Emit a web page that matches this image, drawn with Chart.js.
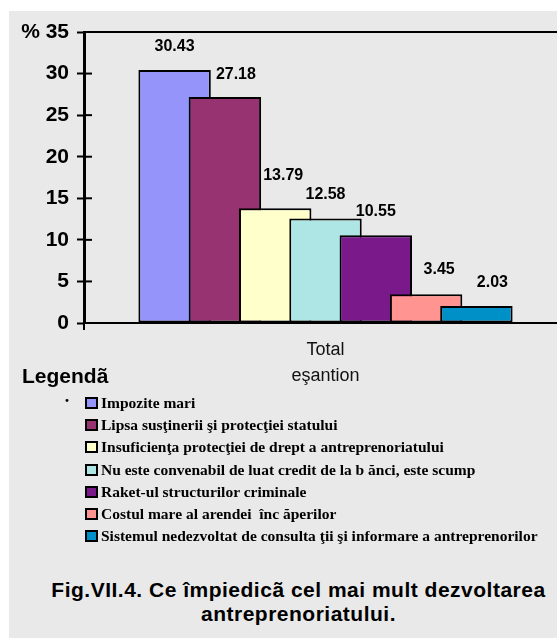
<!DOCTYPE html>
<html>
<head>
<meta charset="utf-8">
<script src="https://cdn.jsdelivr.net/npm/chart.js@4"></script>
<style>
  html, body { margin: 0; padding: 0; background: #fff; overflow: hidden; width: 557px; height: 638px; }
  #panel { position: absolute; left: 9px; top: 11px; right: 0; bottom: 0; background: #e9e9e9; }
  #chart { position: absolute; left: 0; top: 0; }
  #legendTitle { position: absolute; left: 22px; top: 364px; font: bold 21px "Liberation Sans", Arial, sans-serif; }
  #legendDot { position: absolute; left: 64px; top: 391px; font: bold 18px "Liberation Serif", serif; }
  #legend { position: absolute; left: 85px; top: 392px; margin: 0; padding: 0; list-style: none;
            font: bold 15.5px "Liberation Serif", "Times New Roman", serif; }
  #legend li { display: flex; align-items: center; height: 22.2px; white-space: pre; }
  #legend .box { width: 9px; height: 8px; border: 2px solid #000; margin-right: 3px; flex: none; }
  #caption { position: absolute; left: 40px; right: 0; top: 578px; text-align: center;
             font: bold 21px "Liberation Sans", Arial, sans-serif; letter-spacing: 0.5px; line-height: 24px; }
</style>
</head>
<body>
<div id="panel"></div>
<canvas id="chart" width="567" height="400"></canvas>
<div id="legendTitle">Legendã</div>
<div id="legendDot">·</div>
<ul id="legend"></ul>
<div id="caption">Fig.VII.4. Ce împiedicã cel mai mult dezvoltarea<br>antreprenoriatului.</div>

<script>
// categoria unica de pe axa X
const categories = [["Total", "eşantion"]];

// cauzele (seriile)
const causes = [
    "Impozite mari",
    "Lipsa susţinerii şi protecţiei statului",
    "Insuficienţa protecţiei de drept a antreprenoriatului",
    "Nu este convenabil de luat credit de la b ănci, este scump",
    "Raket-ul structurilor criminale",
    "Costul mare al arendei  înc ăperilor",
    "Sistemul nedezvoltat de consulta ţii şi informare a antreprenorilor"
];

// procente
const values = [30.43, 27.18, 13.79, 12.58, 10.55, 3.45, 2.03];

const colors = ["#9494fa", "#963370", "#ffffcc", "#aee6e6", "#7a1a8a", "#ff9490", "#0090c8"];

const yTicks = [0, 5, 10, 15, 20, 25, 30, 35];

// mici deplasari ale etichetelor fata de bara (px)
const labelShiftX = [0, 11, 8, 0, 0, 13, 16];
const labelShiftY = [0, 1, -9, 0, 0, -1, 0];

// legenda
const legend = document.getElementById("legend");
causes.forEach((name, i) => {
    const li = document.createElement("li");
    const box = document.createElement("span");
    box.className = "box";
    box.style.background = colors[i];
    li.appendChild(box);
    li.appendChild(document.createTextNode(name));
    legend.appendChild(li);
});

// barele se suprapun: seria urmatoare se deseneaza peste cea precedenta
const overlapBars = {
    id: "overlapBars",
    beforeDatasetsDraw(chart) {
        chart.getSortedVisibleDatasetMetas().forEach(m => m.controller.draw());
        return false;
    },
    afterDraw(chart) {
        const ctx = chart.ctx;
        const area = chart.chartArea;
        const y = chart.scales.y;

        ctx.save();
        ctx.strokeStyle = "#000";
        ctx.lineWidth = 2;

        // linia de sus a zonei graficului
        const top = y.getPixelForValue(y.max);
        ctx.beginPath();
        ctx.moveTo(area.left, top);
        ctx.lineTo(area.right, top);
        ctx.stroke();

        // liniutele de pe interiorul axei Y
        y.ticks.forEach(t => {
            const py = y.getPixelForValue(t.value);
            ctx.beginPath();
            ctx.moveTo(area.left, py);
            ctx.lineTo(area.left + 8, py);
            ctx.stroke();
        });

        // valorile deasupra barelor
        ctx.fillStyle = "#000";
        ctx.font = "bold 16px 'Liberation Sans', Arial, sans-serif";
        ctx.textAlign = "center";
        ctx.textBaseline = "middle";
        chart.data.datasets.forEach((ds, i) => {
            const bar = chart.getDatasetMeta(i).data[0];
            ctx.fillText(ds.data[0].toFixed(2), bar.x + labelShiftX[i], bar.y - 23.5 + labelShiftY[i]);
        });
        ctx.restore();
    }
};

new Chart(document.getElementById("chart"), {
    type: "bar",
    plugins: [overlapBars],
    data: {
        labels: categories,
        datasets: causes.map((name, i) => ({
            label: name,
            data: [values[i]],
            backgroundColor: colors[i],
            borderColor: "#000",
            borderWidth: 2,
            borderSkipped: false,
            categoryPercentage: 0.729,
            barPercentage: 1.44
        }))
    },
    options: {
        responsive: false,
        animation: false,
        layout: { padding: { top: 32, left: 0, right: 0, bottom: 0 } },
        plugins: {
            legend: { display: false },
            tooltip: { enabled: false }
        },
        scales: {
            x: {
                afterFit: s => { s.height = 77; },
                border: { color: "#000", width: 2 },
                grid: { drawOnChartArea: false, color: "#000", lineWidth: 2, tickLength: 7 },
                ticks: {
                    color: "#111",
                    padding: 7,
                    font: { family: "'Liberation Sans', Arial, sans-serif", size: 18, lineHeight: 1.44 }
                }
            },
            y: {
                min: 0,
                max: 35,
                afterFit: s => { s.width = 84; },
                afterBuildTicks: s => { s.ticks = yTicks.map(v => ({ value: v })); },
                border: { color: "#000", width: 3 },
                grid: {
                    drawOnChartArea: false,
                    tickColor: "#000",
                    tickWidth: 2,
                    tickLength: 7
                },
                ticks: {
                    color: "#000",
                    padding: 8,
                    font: { family: "'Liberation Sans', Arial, sans-serif", size: 21, weight: "bold" },
                    callback: v => (v === 35 ? "% 35" : v)
                }
            }
        }
    }
});
</script>
</body>
</html>
